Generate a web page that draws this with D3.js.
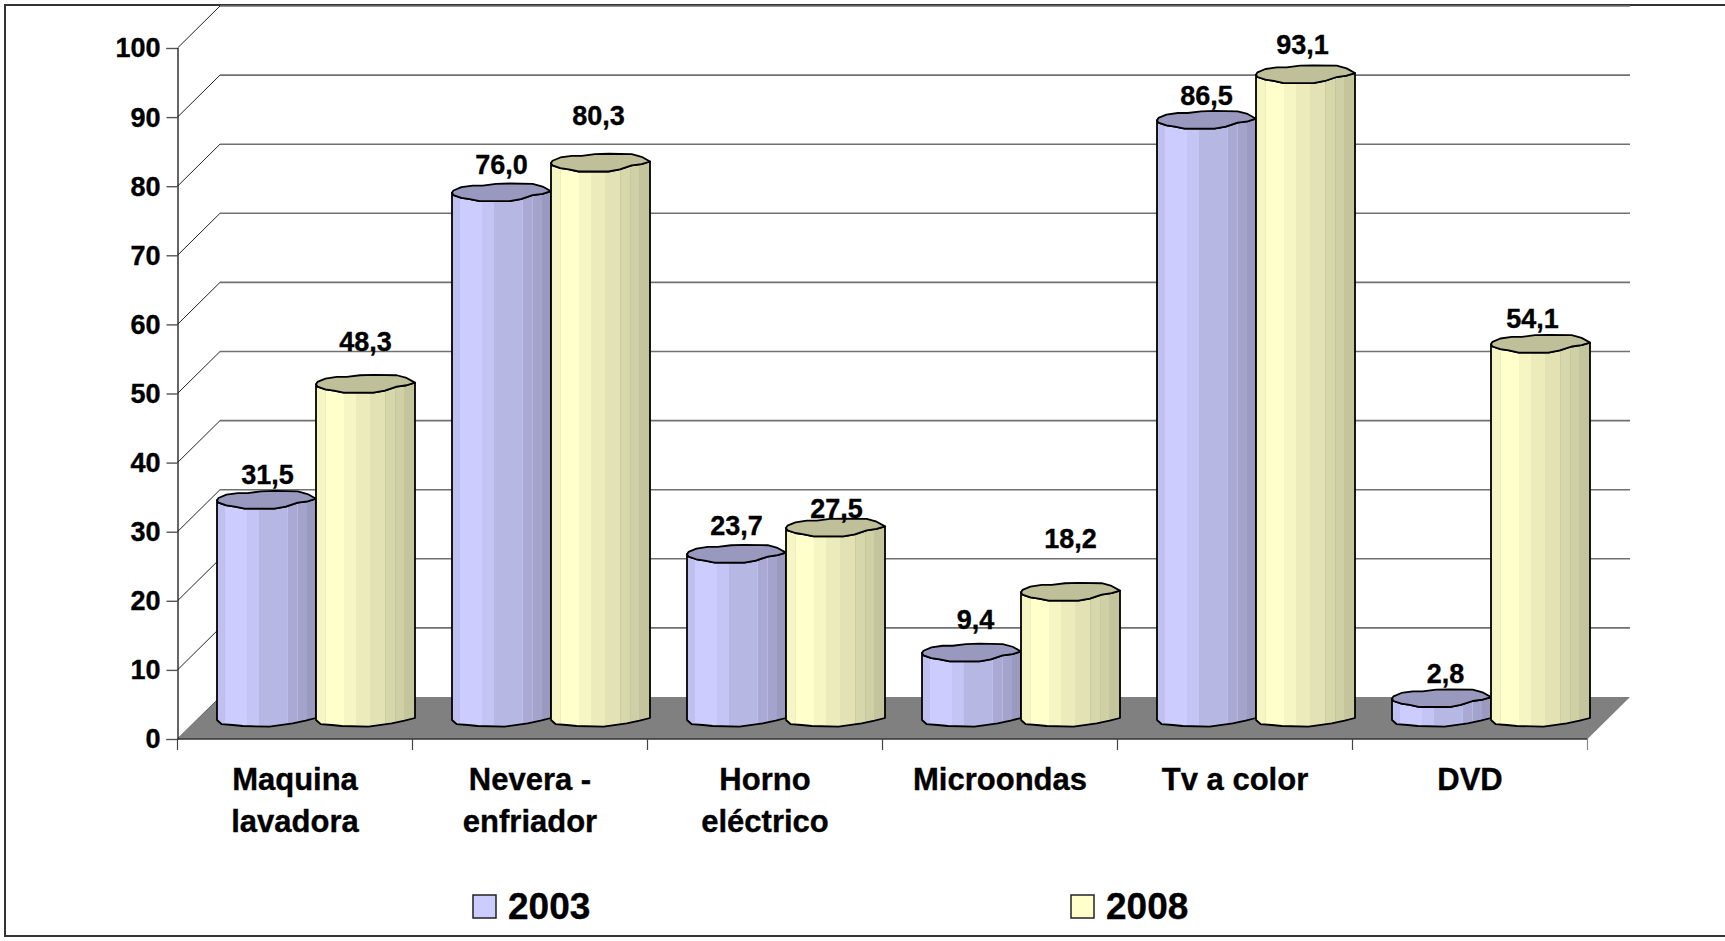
<!DOCTYPE html>
<html><head><meta charset="utf-8">
<script src="https://cdn.jsdelivr.net/npm/d3@7/dist/d3.min.js"></script>
<style>
html,body{margin:0;padding:0;background:#fff;overflow:hidden}
text{font-family:"Liberation Sans",Arial,sans-serif;font-weight:700;fill:#000;stroke:#000;stroke-width:.35px}
</style></head><body>
<script>
const categories = [["Maquina","lavadora"],["Nevera -","enfriador"],["Horno","eléctrico"],["Microondas"],["Tv a color"],["DVD"]];
const seriesNames = ["2003","2008"];
const values2003 = [31.5,76.0,23.7,9.4,86.5,2.8];
const values2008 = [48.3,80.3,27.5,18.2,93.1,54.1];
const yTicks = [0,10,20,30,40,50,60,70,80,90,100];
const labelRaise2003 = [26,29,29,34,25,25];
const labelRaise2008 = [43,48,20,54,30,26];
const labelShift2003 = [1,0,0,4,0,4];
const labelShift2008 = [0,-2,1,0,-3,-8];

const W=1725,H=941, depthX=42.5, depthY=42;
const x0=177.5, x1=1587.5, yB=739, yT=48;
const y=d3.scaleLinear().domain([0,100]).range([yB,yT]);
const x=d3.scaleBand().domain(d3.range(categories.length)).range([x0,x1]).paddingInner(0).paddingOuter(0);
const catW=x.bandwidth();
const barW=99, barOff=39.5, ry=9;
const baseShift=-depthY/2;

const svg=d3.select("body").append("svg").attr("width",W).attr("height",H).style("display","block");
const defs=svg.append("defs");

// faceted cylinder shading: [start of facet, brightness]
const facets=[[0,.94],[.085,1],[.30,.96],[.42,.895],[.71,.93],[.716,.83],[.81,.89],[.816,.80],[.905,.84],[.911,.755],[1,.755]];
const facetsY=[[0,.965],[.09,.93],[.096,1],[.18,.95],[.186,1],[.28,.965],[.40,.92],[.55,.885],[.70,.80],[.706,.845],[.80,.79],[.806,.815],[.885,.74],[.891,.77],[1,.77]];
function grad(id,base,fs){
  const c=d3.color(base), g=defs.append("linearGradient").attr("id",id).attr("x1",0).attr("x2",1).attr("y1",0).attr("y2",0);
  fs.forEach((f,i)=>{
    const col=d3.rgb(c.r*f[1],c.g*f[1],c.b*f[1]).formatHex();
    g.append("stop").attr("offset",f[0]).attr("stop-color",col);
    if(i<fs.length-1) g.append("stop").attr("offset",fs[i+1][0]).attr("stop-color",col);
  });
}
grad("g0","#ccccff",facets); grad("g1","#ffffcc",facetsY);
const fills=["url(#g0)","url(#g1)"], swatch=["#ccccff","#ffffcc"], tops=["#9999bf","#bfbf99"];

// frame
svg.append("path").attr("d",`M${W},5H5V936H${W}`).attr("fill","none").attr("stroke","#333").attr("stroke-width",2);

// back wall grid + side wall diagonals
const g=svg.append("g");
g.selectAll(".gr").data(yTicks.filter(t=>t>0)).join("line")
 .attr("x1",x0+depthX).attr("x2",x1+depthX).attr("y1",t=>y(t)-depthY).attr("y2",t=>y(t)-depthY)
 .attr("stroke","#707070").attr("stroke-width",1.6);
g.selectAll(".dg").data(yTicks).join("line")
 .attr("x1",x0).attr("y1",t=>y(t)).attr("x2",x0+depthX).attr("y2",t=>y(t)-depthY)
 .attr("stroke","#222").attr("stroke-width",1);

// floor
g.append("polygon").attr("points",[[x0,yB],[x0+depthX,yB-depthY],[x1+depthX,yB-depthY],[x1,yB]].join(" ")).attr("fill","#808080");

// axes
const axL=d3.axisLeft(y).tickValues(yTicks).tickSize(11).tickPadding(6);
const gy=svg.append("g").attr("transform",`translate(${x0},0)`).call(axL);
gy.select(".domain").attr("stroke","#000").attr("stroke-width",1.2);
gy.selectAll(".tick line").attr("stroke","#555").attr("stroke-width",1.4);
gy.selectAll("text").style("font-size","27px").attr("dy",".33em").attr("fill","#000");
svg.append("line").attr("x1",x0).attr("x2",x1).attr("y1",yB).attr("y2",yB).attr("stroke","#333").attr("stroke-width",1.4);
d3.range(categories.length+1).forEach(i=>{
  const tx=i<categories.length?x(i):x1;
  svg.append("line").attr("x1",tx).attr("x2",tx).attr("y1",yB).attr("y2",yB+11).attr("stroke",i===categories.length?"#888":"#444").attr("stroke-width",1.2);
});

// cylinders
const rimTop=[[-1,0],[-.97,-.26],[-.81,-.63],[-.58,-.81],[-.38,-.81],[-.11,-1],[.16,-1.04],[.63,-1],[.83,-.7],[1,-.18]];
const rimLow=[[.83,.11],[.63,.26],[.39,.7],[.16,.93],[-.17,.93],[-.44,.93],[-.64,.7],[-.81,.56],[-.97,.26]];
const foot=[[-1,.22],[-.91,.67],[-.68,.78],[-.48,.89],[.06,.96],[.53,.59],[.79,.3],[1,0]];
const series=[values2003,values2008];
const gb=svg.append("g");
series.forEach((vals,s)=>{
  vals.forEach((v,i)=>{
    const cx=x(i)+barOff+barW*s+barW/2, top=y(v)+baseShift, bot=y(0)+baseShift, hw=barW/2;
    const bp=foot.map(p=>[cx+p[0]*hw,bot+p[1]*ry]);
    const body=`M${cx-hw},${top}`+bp.map(p=>`L${p[0]},${p[1]}`).join("")+`L${cx+hw},${top+rimTop[9][1]*ry}`+
      rimLow.map(p=>`L${cx+p[0]*hw},${top+p[1]*ry}`).join("")+"Z";
    gb.append("path").attr("d",body).attr("fill",fills[s]).attr("stroke","#000").attr("stroke-width",1.8).attr("stroke-linejoin","round");
    gb.append("polygon").attr("points",rimTop.concat(rimLow).map(p=>[cx+p[0]*hw,top+p[1]*ry].join(",")).join(" "))
      .attr("fill",tops[s]).attr("stroke","#000").attr("stroke-width",1.8).attr("stroke-linejoin","round");
  });
});
// value labels
series.forEach((vals,s)=>{
  const raise=s?labelRaise2008:labelRaise2003, shift=s?labelShift2008:labelShift2003;
  vals.forEach((v,i)=>{
    const cx=x(i)+barOff+barW*s+barW/2, top=y(v)+baseShift;
    svg.append("text").attr("x",cx+shift[i]).attr("y",top-raise[i]).attr("dy",".36em").attr("text-anchor","middle")
      .style("font-size","27px").text(v.toFixed(1).replace(".",","));
  });
});
// category labels
categories.forEach((c,i)=>{
  c.forEach((line,j)=>{
    svg.append("text").attr("x",x(i)+catW/2).attr("y",790+j*42).attr("text-anchor","middle").style("font-size","31px").text(line);
  });
});
// legend
const legX=[473,1071];
seriesNames.forEach((n,i)=>{
  svg.append("rect").attr("x",legX[i]).attr("y",895).attr("width",23).attr("height",23).attr("fill",swatch[i]).attr("stroke","#222").attr("stroke-width",1.5);
  svg.append("text").attr("x",legX[i]+35).attr("y",919).style("font-size","37px").text(n);
});
</script></body></html>
